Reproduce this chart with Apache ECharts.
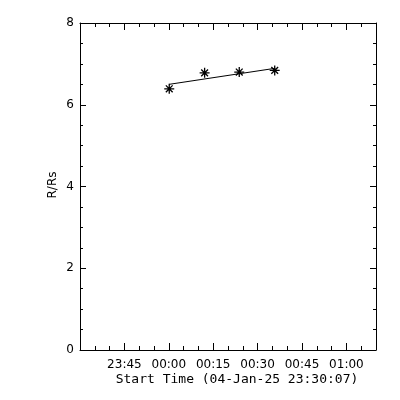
<!DOCTYPE html>
<html>
<head>
<meta charset="utf-8">
<script src="https://cdn.jsdelivr.net/npm/echarts@6/dist/echarts.min.js"></script>
<style>html,body{margin:0;padding:0;background:#fff}#c{width:400px;height:400px}</style>
</head>
<body>
<div id="c"></div>
<script>
// Observation times (04/05-Jan-25), and measured heights R/Rs
var obsTimes = ['00:00:09', '00:12:06', '00:23:48', '00:35:47'];
var heights = [6.39, 6.78, 6.80, 6.84];
// linear fit line, read at first and last observation
var fitTimes = ['00:00:09', '00:35:47'];
var fitHeights = [6.50, 6.89];
// axis ranges (minutes since 04-Jan-25 00:00)
var xMin = 1410, xMax = 1510;
var yMin = 0, yMax = 8;
var yTicks = [0, 2, 4, 6, 8];
var xTitle = 'Start Time (04-Jan-25 23:30:07)';
var yTitle = 'R/Rs';

function toMin(s) {
  var p = s.split(':').map(Number);
  var m = p[0] * 60 + p[1] + p[2] / 60;
  if (p[0] < 12) m += 1440;
  return m;
}
function fmt(v) {
  if (v <= xMin + 0.01 || v >= xMax - 0.01) return '';
  var m = Math.round(v) % 1440;
  var h = Math.floor(m / 60), mm = m % 60;
  return (h < 10 ? '0' : '') + h + ':' + (mm < 10 ? '0' : '') + mm;
}
var pts = obsTimes.map(function (t, i) { return [toMin(t), heights[i]]; });
var fit = fitTimes.map(function (t, i) { return [toMin(t), fitHeights[i]]; });

var FONT = 'DejaVu Sans';
var gridPos = { left: 80, right: 24, top: 23, bottom: 50, containLabel: false };
function xAx(gridIndex, pos, interval, len, labels, line) {
  return {
    type: 'value', gridIndex: gridIndex, position: pos, min: xMin, max: xMax, interval: interval,
    axisLine: { show: line, onZero: false, lineStyle: { color: '#000', width: 1 } },
    axisTick: { show: true, inside: true, length: len, lineStyle: { color: '#000', width: 1 } },
    axisLabel: { show: labels, formatter: fmt, color: '#000', fontFamily: FONT, fontSize: 12, margin: 9, showMinLabel: false, showMaxLabel: false },
    splitLine: { show: false }
  };
}
function yAx(gridIndex, pos, labels, show) {
  return {
    type: 'value', gridIndex: gridIndex, position: pos, min: yMin, max: yMax, interval: 2, show: show,
    axisLine: { show: true, onZero: false, lineStyle: { color: '#000', width: 1 } },
    axisTick: { show: true, inside: true, length: 6, lineStyle: { color: '#000', width: 1 } },
    minorTick: { show: true, splitNumber: 4, length: 3, lineStyle: { color: '#000', width: 1 } },
    axisLabel: { show: labels, color: '#000', fontFamily: FONT, fontSize: 12, margin: 6,
      formatter: function (v) { return yTicks.indexOf(v) >= 0 ? String(v) : ''; } },
    splitLine: { show: false }
  };
}

var chart = echarts.init(document.getElementById('c'), null, { renderer: 'canvas' });
chart.setOption({
  animation: false,
  backgroundColor: '#fff',
  grid: [gridPos, Object.assign({}, gridPos)],
  xAxis: [
    xAx(0, 'bottom', 15, 7, true, true),
    xAx(0, 'top', 15, 7, false, true),
    xAx(1, 'bottom', 5, 4, false, false),
    xAx(1, 'top', 5, 4, false, false)
  ],
  yAxis: [
    yAx(0, 'left', true, true),
    yAx(0, 'right', false, true),
    yAx(1, 'left', false, false)
  ],
  series: [
    {
      type: 'line', xAxisIndex: 0, yAxisIndex: 0, data: fit, showSymbol: false, symbol: 'none',
      lineStyle: { color: '#000', width: 1 }, silent: true
    },
    {
      type: 'scatter', xAxisIndex: 0, yAxisIndex: 0, data: pts,
      symbol: 'path://M5,0L5,10M0,5L10,5M1.6,1.6L8.4,8.4M1.6,8.4L8.4,1.6',
      symbolSize: 10,
      itemStyle: { color: 'rgba(0,0,0,0)', borderColor: '#000', borderWidth: 1.3, opacity: 1 }
    }
  ],
  graphic: [
    { type: 'text', x: 237, y: 380, style: { text: xTitle, fill: '#000', font: '13px "DejaVu Sans Mono"', textAlign: 'center', textVerticalAlign: 'middle' } },
    { type: 'text', x: 53, y: 185, rotation: Math.PI / 2, style: { text: yTitle, fill: '#000', font: '12px "DejaVu Sans"', textAlign: 'center', textVerticalAlign: 'middle' } }
  ]
});
</script>
</body>
</html>
